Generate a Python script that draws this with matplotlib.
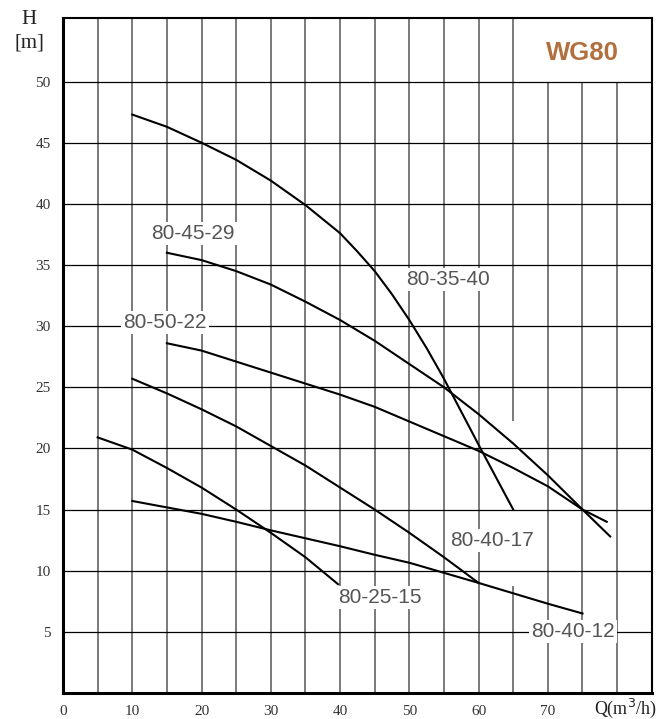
import matplotlib.pyplot as plt
import numpy as np
from matplotlib.patches import Rectangle

# pump curves, Q in m3/h, H in m
q_35_40 = [10, 15, 20, 25, 30, 35, 40, 42.5, 45, 47.5, 50, 52.5, 55, 57.5, 60, 65]
h_35_40 = [47.3, 46.3, 45.0, 43.6, 41.9, 39.9, 37.6, 36.1, 34.5, 32.6, 30.5, 28.2, 25.7, 23.0, 20.3, 15.0]

q_45_29 = [15, 20, 25, 30, 35, 40, 45, 50, 55, 60, 65, 70, 75, 79]
h_45_29 = [36.0, 35.4, 34.5, 33.4, 32.0, 30.5, 28.8, 26.9, 25.0, 22.8, 20.4, 17.8, 15.0, 12.8]

q_50_22 = [15, 20, 25, 30, 35, 40, 45, 50, 55, 60, 65, 70, 75, 78.5]
h_50_22 = [28.6, 28.0, 27.1, 26.2, 25.3, 24.4, 23.4, 22.2, 21.0, 19.8, 18.4, 16.9, 15.0, 14.0]

q_40_17 = [10, 15, 20, 25, 30, 35, 40, 45, 50, 55, 60]
h_40_17 = [25.7, 24.5, 23.2, 21.8, 20.2, 18.6, 16.8, 15.0, 13.1, 11.1, 9.0]

q_25_15 = [5, 10, 15, 20, 25, 30, 35, 39.7]
h_25_15 = [20.9, 19.9, 18.4, 16.8, 15.0, 13.1, 11.1, 8.9]

q_40_12 = [10, 20, 25, 30, 35, 40, 45, 50, 60, 70, 75]
h_40_12 = [15.7, 14.65, 14.0, 13.3, 12.65, 12.0, 11.3, 10.65, 9.0, 7.3, 6.5]

curves = [(q_35_40, h_35_40), (q_45_29, h_45_29), (q_50_22, h_50_22),
          (q_40_17, h_40_17), (q_25_15, h_25_15), (q_40_12, h_40_12)]

labels = ["80-45-29", "80-50-22", "80-35-40", "80-40-17", "80-25-15", "80-40-12"]
label_x = [18.8, 14.7, 55.6, 61.9, 45.7, 73.6]
label_y = [37.6, 30.3, 33.8, 12.5, 7.8, 5.0]

x_ticks = [0, 10, 20, 30, 40, 50, 60, 70]
y_ticks = [5, 10, 15, 20, 25, 30, 35, 40, 45, 50]

fig = plt.figure(figsize=(6.59, 7.19), dpi=100)
ax = fig.add_axes([0.0956, 0.0362, 0.8934, 0.9388])
ax.set_xlim(0, 85)
ax.set_ylim(0, 55.2)

# grid: grey verticals every 5, black horizontals every 5
for gx in range(5, 85, 5):
    if gx == 65:
        ax.axvline(gx, ymin=0, ymax=8.7 / 55.2, color="#7a7a7a", lw=1.4, zorder=1)
        ax.axvline(gx, ymin=22.3 / 55.2, ymax=1, color="#7a7a7a", lw=1.4, zorder=1)
    else:
        ax.axvline(gx, color="#7a7a7a", lw=1.4, zorder=1)
ax.add_patch(Rectangle((65.3, 50), 19.7, 5.2, facecolor="white", edgecolor="none", zorder=1.5))
for gy in y_ticks:
    ax.axhline(gy, color="black", lw=0.9, zorder=2)

for q, h in curves:
    ax.plot(q, h, color="black", lw=1.5, zorder=3, solid_joinstyle="round")

for txt, lx, ly in zip(labels, label_x, label_y):
    ax.text(lx, ly, txt, ha="center", va="center", fontsize=15, color="#555555",
            family="Liberation Sans", zorder=4,
            bbox=dict(facecolor="white", edgecolor="none", pad=1.5))

ax.text(75, 52.3, "WG80", ha="center", va="center", fontsize=18.5, fontweight="bold",
        color="#b2703f", family="Liberation Sans", zorder=4)

ax.set_xticks(x_ticks)
ax.set_yticks(y_ticks)
ax.tick_params(length=0, labelsize=11, pad=9)
for lab in ax.get_xticklabels() + ax.get_yticklabels():
    lab.set_family("Liberation Serif")
    lab.set_color("#333333")

for side in ["left", "bottom"]:
    ax.spines[side].set_linewidth(2.2)
for side in ["top", "right"]:
    ax.spines[side].set_linewidth(1.5)

fig.text(29 / 659, 1 - 19 / 719, "H", ha="center", va="center", fontsize=15,
         family="Liberation Serif", color="#222222")
fig.text(29 / 659, 1 - 43 / 719, "[m]", ha="center", va="center", fontsize=15,
         family="Liberation Serif", color="#222222")
fig.text(625 / 659, 1 - 708 / 719, "Q(m$^3$/h)", ha="center", va="center", fontsize=13,
         family="Liberation Serif", color="#222222")

fig.savefig("out.png", dpi=100)
